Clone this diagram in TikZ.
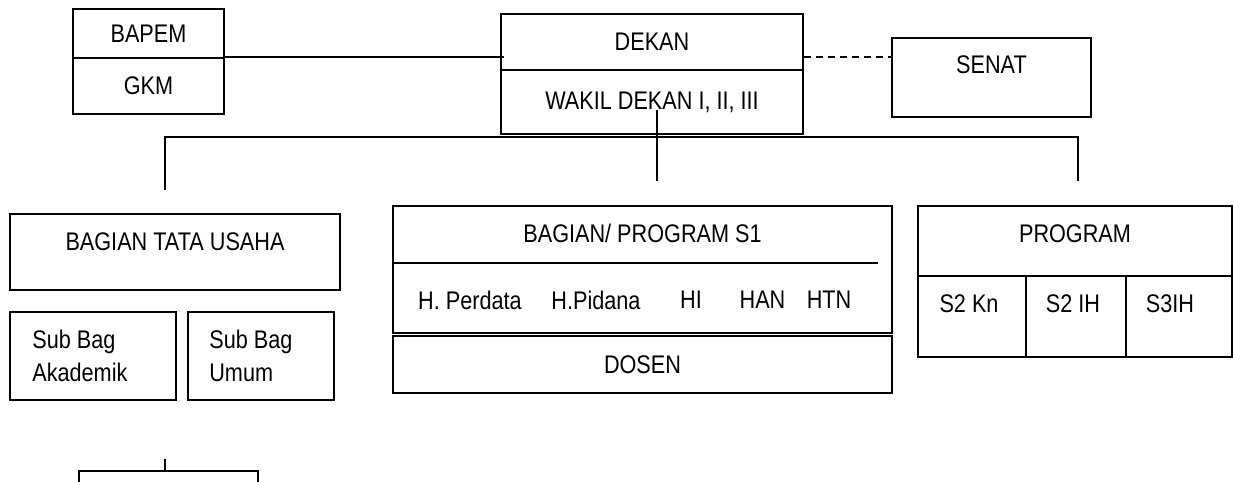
\documentclass[tikz,border=0pt]{standalone}
\usepackage{fontspec}
\setmainfont[FakeStretch=0.85]{Liberation Sans}
\usetikzlibrary{calc,positioning}

\tikzset{
  box/.style={draw, line width=0.9pt, inner sep=0pt},
  txt/.style={inner sep=0pt},
  line/.style={line width=0.9pt},
}

\begin{document}
\begin{tikzpicture}[x=0.02cm,y=-0.02cm,font=\fontsize{14.5}{18.8}\selectfont]
        \useasboundingbox (0,0) rectangle (1233,481);

        % pimpinan
        \node [box, minimum width=3.02cm, minimum height=0.98cm] (bapem) at (148.5,33.5) {BAPEM};
        \node [box, minimum width=3.02cm, minimum height=1.12cm] (gkm) at (148.5,86) {GKM};
        \node [box, minimum width=6.04cm, minimum height=1.12cm] (dekan) at (652,42) {DEKAN};
        \node [box, minimum width=6.04cm, minimum height=1.28cm] (wakil) at (652,102) {WAKIL DEKAN I, II, III};
        \node [box, minimum width=3.98cm, minimum height=1.58cm] (senat) at (991.5,77.5) {};
        \node [txt] (senattxt) at (991.5,64.5) {SENAT};

        \draw [line] (gkm.north east) -- ([xshift=0.08cm]gkm.north east -| dekan.west);
        \draw [line, dash pattern=on 0.14cm off 0.1cm] (gkm.north east -| dekan.east) -- (gkm.north east -| senat.west);

        % garis ke bawah
        \coordinate (busl) at (165,137);
        \coordinate (busr) at (1078,137);
        \coordinate (tutop) at (165,190);
        \coordinate (progtop) at (1078,181);
        \coordinate (wakilstem) at (657,110);
        \coordinate (s1top) at (657,181);
        \draw [line] (tutop) -- (busl) -- (busr) -- (progtop);
        \draw [line] (wakilstem) -- (s1top);

        % tata usaha
        \node [box, minimum width=6.6cm, minimum height=1.52cm] (tu) at (175,252) {};
        \node [txt] (tutxt) at (175,242) {BAGIAN TATA USAHA};
        \node [box, minimum width=3.32cm, minimum height=1.76cm] (akad) at (93,356) {};
        \node [txt, anchor=west, align=left] (akadtxt) at (32,356) {Sub Bag\\Akademik};
        \node [box, minimum width=2.92cm, minimum height=1.76cm] (umum) at (261,356) {};
        \node [txt, anchor=west, align=left] (umumtxt) at (209,356) {Sub Bag\\Umum};
        \node [box, minimum width=3.58cm, minimum height=0.76cm] (staf) at (168.5,490) {};
        \coordinate (staftick) at (165,459);
        \draw [line] (staftick) -- (staftick |- staf.north);

        % bagian / program s1
        \node [box, minimum width=9.98cm, minimum height=2.54cm] (s1) at (642.5,269.5) {};
        \node [txt] (s1txt) at (642.5,233) {BAGIAN/ PROGRAM S1};
        \coordinate (s1line) at (878,263);
        \draw [line] (s1.west |- s1line) -- (s1line);
        \foreach \t/\x [count=\i] in {H. Perdata/470, H.Pidana/596, HI/691, HAN/762.5, HTN/829}
            \node [txt] (bag\i) at (\x,300) {\t};
        \node [box, minimum width=9.98cm, minimum height=1.14cm] (dosen) at (642.5,364.5) {DOSEN};

        % program pascasarjana
        \node [box, minimum width=6.28cm, minimum height=3.02cm] (prog) at (1075,281.5) {};
        \node [txt] (progtxt) at (1075,234) {PROGRAM};
        \coordinate (progdiv) at (918,276);
        \draw [line] (progdiv) -- (progdiv -| prog.east);
        \foreach \x in {1026,1126}
            \draw [line] (\x,276) -- (\x,357);
        \node [txt] (s2kn) at (969,304) {S2 Kn};
        \node [txt] (s2ih) at (1073,304) {S2 IH};
        \node [txt] (s3ih) at (1170,304) {S3IH};
\end{tikzpicture}
\end{document}
